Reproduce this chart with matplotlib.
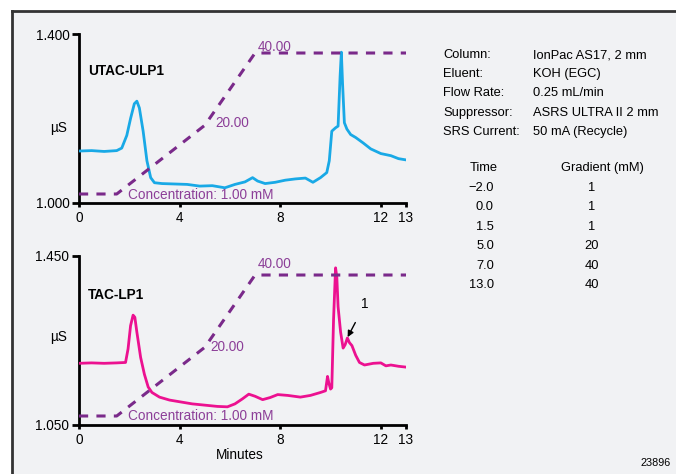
import matplotlib
matplotlib.use("Agg")
import matplotlib.pyplot as plt
from matplotlib.patches import Rectangle
from matplotlib.lines import Line2D

plt.rcParams['font.family'] = ['Liberation Sans', 'DejaVu Sans']

# ---------------- data ----------------
top_t = [0, 0.5, 1.0, 1.5, 1.7, 1.9, 2.05, 2.2, 2.3, 2.4, 2.55, 2.7, 2.85, 3.0, 3.3, 3.8,
         4.3, 4.8, 5.3, 5.8, 6.2, 6.6, 6.9, 7.1, 7.4, 7.8, 8.2, 8.6, 9.0, 9.3, 9.6, 9.85,
         9.95, 10.05, 10.2, 10.3, 10.38, 10.43, 10.48, 10.55, 10.65, 10.8, 11.0, 11.3, 11.6,
         12.0, 12.4, 12.7, 13.0]
top_v = [1.123, 1.124, 1.122, 1.124, 1.13, 1.16, 1.2, 1.235, 1.241, 1.225, 1.17, 1.1, 1.06,
         1.048, 1.046, 1.045, 1.044, 1.040, 1.041, 1.036, 1.044, 1.050, 1.060, 1.052, 1.046,
         1.049, 1.054, 1.057, 1.059, 1.049, 1.060, 1.072, 1.10, 1.170, 1.178, 1.182, 1.30,
         1.357, 1.28, 1.19, 1.175, 1.162, 1.155, 1.142, 1.128, 1.117, 1.112, 1.105, 1.102]

bot_t = [0, 0.5, 1.0, 1.5, 1.85, 1.95, 2.05, 2.15, 2.22, 2.3, 2.45, 2.6, 2.75, 2.9, 3.2, 3.6,
         4.0, 4.5, 5.0, 5.5, 5.9, 6.2, 6.5, 6.75, 7.0, 7.3, 7.6, 7.9, 8.3, 8.8, 9.2, 9.6, 9.8,
         9.88, 9.93, 10.0, 10.05, 10.12, 10.2, 10.25, 10.3, 10.4, 10.5, 10.58, 10.67, 10.75,
         10.85, 11.0, 11.15, 11.35, 11.7, 12.0, 12.2, 12.4, 12.7, 13.0]
bot_v = [1.196, 1.197, 1.196, 1.197, 1.198, 1.23, 1.285, 1.31, 1.305, 1.27, 1.21, 1.17, 1.14,
         1.127, 1.116, 1.109, 1.105, 1.100, 1.097, 1.094, 1.093, 1.100, 1.112, 1.123, 1.118,
         1.110, 1.115, 1.122, 1.120, 1.116, 1.120, 1.127, 1.131, 1.165, 1.150, 1.135, 1.138,
         1.30, 1.422, 1.40, 1.33, 1.27, 1.232, 1.240, 1.256, 1.245, 1.238, 1.215, 1.198,
         1.192, 1.196, 1.197, 1.190, 1.192, 1.189, 1.187]

grad_t = [0, 1.5, 5.0, 7.0, 13.0]
grad_c = [1, 1, 20, 40, 40]

x_ticks = [0, 4, 8, 12, 13]
top_ylim = (1.000, 1.400)
bot_ylim = (1.050, 1.450)

cond_rows = [("Column:", "IonPac AS17, 2 mm"), ("Eluent:", "KOH (EGC)"),
             ("Flow Rate:", "0.25 mL/min"), ("Suppressor:", "ASRS ULTRA II 2 mm"),
             ("SRS Current:", "50 mA (Recycle)")]
table_time = ["\u22122.0", "0.0", "1.5", "5.0", "7.0", "13.0"]
table_grad = ["1", "1", "1", "20", "40", "40"]

# ---------------- figure ----------------
W, H = 676, 474
fig = plt.figure(figsize=(W / 100, H / 100), dpi=100)
fig.patch.set_facecolor('white')

def fx(px):
    return px / W

def fy(py):
    return 1 - py / H

bg = '#f1f2f4'
fig.patches.append(Rectangle((fx(12), 0), 1 - fx(12), fy(11), transform=fig.transFigure,
                             facecolor=bg, edgecolor='none', zorder=-10))
fig.lines.append(Line2D([fx(12), 1], [fy(11), fy(11)], transform=fig.transFigure,
                        color='#333333', lw=2))
fig.lines.append(Line2D([fx(12), fx(12)], [0, fy(11)], transform=fig.transFigure,
                        color='#333333', lw=2))

FS = 9.3
purple = '#7a2a8a'
ptext = '#8c3f98'

def make_panel(y_top, y_bot, t, v, color, ylim, name, mu_frac, name_frac, lab):
    ax = fig.add_axes([fx(79), fy(y_bot), fx(406) - fx(79), fy(y_top) - fy(y_bot)])
    ax.set_facecolor('none')
    ax.plot(t, v, color=color, lw=2.0, zorder=3, solid_joinstyle='round')
    ax.set_xlim(0, 13)
    ax.set_ylim(*ylim)
    for s in ['top', 'right']:
        ax.spines[s].set_visible(False)
    for s in ['left', 'bottom']:
        ax.spines[s].set_linewidth(2)
        ax.spines[s].set_color('black')
    ax.set_xticks(x_ticks)
    ax.set_xticklabels([str(x) for x in x_ticks], fontsize=FS + 0.5)
    ax.set_yticks(list(ylim))
    ax.set_yticklabels(["%.3f" % y for y in ylim], fontsize=FS + 0.5)
    ax.tick_params(axis='x', direction='out', length=3, width=2, pad=3)
    ax.tick_params(axis='y', direction='out', length=5, width=2, pad=2)
    span = ylim[1] - ylim[0]
    ax.text(-0.83, ylim[0] + mu_frac * span, "\u00b5S", fontsize=FS + 0.5,
            ha='center', va='center')
    ax.text(0.36, ylim[0] + name_frac * span, name, fontsize=FS + 0.5,
            fontweight='bold', ha='left', va='center')

    ax2 = ax.twinx()
    ax2.set_ylim(-1.49, 45.26)
    ax2.plot(grad_t, grad_c, color=purple, lw=2.2, dashes=(3, 2.7), zorder=2)
    ax2.axis('off')
    (x40, c40), (x20, c20), (xc, cc) = lab
    ax2.text(x40, c40, "40.00", color=ptext, fontsize=FS + 0.5, ha='left', va='center')
    ax2.text(x20, c20, "20.00", color=ptext, fontsize=FS + 0.5, ha='left', va='center')
    ax2.text(xc, cc, "Concentration: 1.00 mM", color=ptext, fontsize=FS + 0.5,
             ha='left', va='center')
    return ax, ax2

ax_top, _ = make_panel(34, 203, top_t, top_v, '#19a9e6', top_ylim, "UTAC-ULP1",
                       0.444, 0.78, ((7.1, 41.7), (5.41, 20.6), (1.95, 0.7)))
ax_bot, _ = make_panel(256, 425, bot_t, bot_v, '#ec1190', bot_ylim, "TAC-LP1",
                       0.52, 0.77, ((7.1, 43.1), (5.21, 20.0), (1.95, 1.0)))

ax_bot.annotate("1", xy=(10.68, 1.258), xytext=(11.37, 1.336), fontsize=FS + 0.5,
                ha='center', va='center',
                arrowprops=dict(arrowstyle='-|>', color='black', lw=1, shrinkB=0,
                                shrinkA=7, mutation_scale=9))

fig.text(fx(240), fy(455), "Minutes", fontsize=FS + 0.5, ha='center', va='center')

# conditions block
for i, (k, val) in enumerate(cond_rows):
    yy = fy(55 + i * 19.2)
    fig.text(fx(443), yy, k, fontsize=FS, ha='left', va='center')
    fig.text(fx(533), yy, val, fontsize=FS, ha='left', va='center')

fig.text(fx(484), fy(168), "Time", fontsize=FS, ha='center', va='center')
fig.text(fx(602), fy(168), "Gradient (mM)", fontsize=FS, ha='center', va='center')
for i, (tt, gg) in enumerate(zip(table_time, table_grad)):
    yy = fy(188 + i * 19.4)
    fig.text(fx(494), yy, tt, fontsize=FS, ha='right', va='center')
    fig.text(fx(592), yy, gg, fontsize=FS, ha='center', va='center')

fig.text(fx(671), fy(463), "23896", fontsize=7.8, ha='right', va='center')

fig.savefig("out.png", dpi=100, facecolor=fig.get_facecolor())
